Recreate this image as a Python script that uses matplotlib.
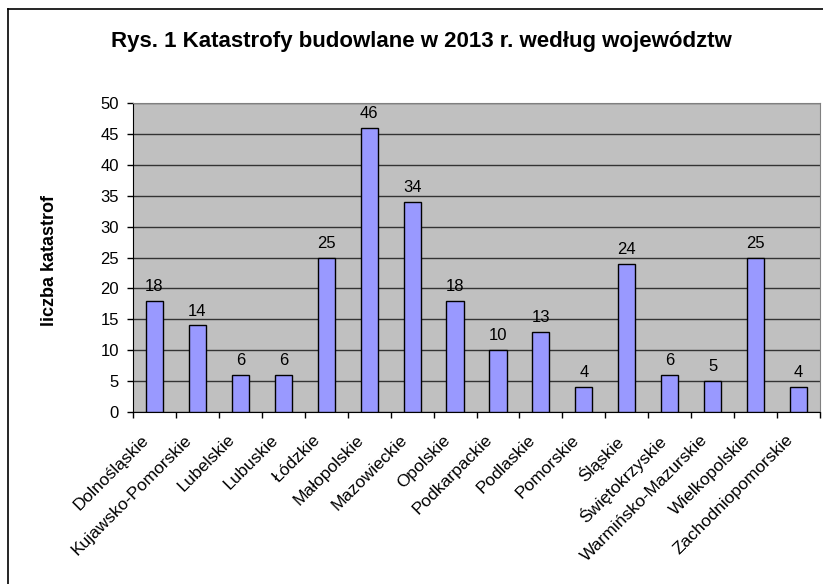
import matplotlib
matplotlib.use("Agg")
import matplotlib.pyplot as plt
from matplotlib.lines import Line2D
from matplotlib.transforms import ScaledTranslation

plt.rcParams['font.family'] = ['Liberation Sans', 'DejaVu Sans']

regions = ['Dolnośląskie', 'Kujawsko-Pomorskie', 'Lubelskie', 'Lubuskie', 'Łódzkie',
           'Małopolskie', 'Mazowieckie', 'Opolskie', 'Podkarpackie', 'Podlaskie',
           'Pomorskie', 'Śląskie', 'Świętokrzyskie', 'Warmińsko-Mazurskie',
           'Wielkopolskie', 'Zachodniopomorskie']
disasters = [18, 14, 6, 6, 25, 46, 34, 18, 10, 13, 4, 24, 6, 5, 25, 4]
y_ticks = [0, 5, 10, 15, 20, 25, 30, 35, 40, 45, 50]

W, H = 823, 584
fig = plt.figure(figsize=(W / 100, H / 100), dpi=100)
ax = fig.add_axes([133 / W, 1 - 412 / H, (820 - 133) / W, (412 - 103) / H])

ax.set_facecolor('#C0C0C0')
x = range(len(regions))
bars = ax.bar(x, disasters, width=0.4, color='#9999FF', edgecolor='black',
              linewidth=1, zorder=3)

for b, v in zip(bars, disasters):
    ax.annotate(str(v), (b.get_x() + b.get_width() / 2, v), xytext=(0, 5),
                textcoords='offset points', ha='center', va='bottom', fontsize=12)

ax.set_xlim(-0.5, len(regions) - 0.5)
ax.set_ylim(0, 50)
ax.set_yticks(y_ticks)
ax.set_yticklabels([str(t) for t in y_ticks], fontsize=12)
ax.yaxis.grid(True, color='#333333', linewidth=1, zorder=1)
ax.set_axisbelow(True)

# category labels at bar centres, tick marks at category boundaries
ax.set_xticks(list(x))
ax.set_xticklabels(regions, rotation=45, ha='right', rotation_mode='anchor', fontsize=12.5)
ax.tick_params(axis='x', length=0, pad=14.4)
shift = ScaledTranslation(-13 / 100, 0, fig.dpi_scale_trans)
for lbl in ax.get_xticklabels():
    lbl.set_transform(lbl.get_transform() + shift)
ax.set_xticks([i - 0.5 for i in range(len(regions) + 1)], minor=True)
ax.tick_params(axis='x', which='minor', length=4, width=1, direction='out')
ax.tick_params(axis='y', length=4, width=1, direction='out', pad=6)

for s in ['top', 'right']:
    ax.spines[s].set_color('#808080')
for s in ['left', 'bottom']:
    ax.spines[s].set_color('black')

fig.text(50 / W, 1 - 261 / H, 'liczba katastrof', rotation=90, ha='center', va='center',
         fontsize=13, fontweight='bold')

fig.text(421 / W, 1 - 41 / H, 'Rys. 1 Katastrofy budowlane w 2013 r. według województw',
         ha='center', va='center', fontsize=16, fontweight='bold')

# outer chart frame
fig.add_artist(Line2D([8 / W, 8 / W], [0, 1 - 9 / H], color='black', linewidth=1.2,
                      transform=fig.transFigure))
fig.add_artist(Line2D([8 / W, 1], [1 - 9 / H, 1 - 9 / H], color='black', linewidth=1.2,
                      transform=fig.transFigure))

fig.savefig('out.png', dpi=100)
